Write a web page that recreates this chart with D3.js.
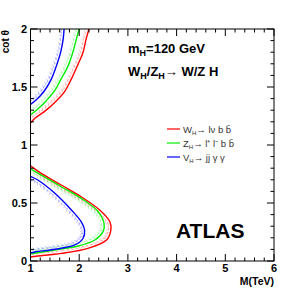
<!DOCTYPE html>
<html>
<head>
<meta charset="utf-8">
<script src="https://cdn.jsdelivr.net/npm/d3@7"></script>
<style>
  body { margin: 0; background: #fff; }
  text { font-family: "Liberation Sans", Arial, sans-serif; }
</style>
</head>
<body>
<div id="chart"></div>
<script>
// exclusion contours, [M (TeV), cot theta]
let redUpper = [[1.0,1.19],[1.09,1.23],[1.29,1.29],[1.53,1.38],[1.70,1.46],[1.84,1.57],[1.97,1.69],[2.08,1.80],[2.14,1.91],[2.20,2.0]];
let greenUpper = [[1.0,1.26],[1.15,1.31],[1.32,1.38],[1.50,1.47],[1.63,1.57],[1.77,1.68],[1.87,1.80],[1.94,1.91],[2.00,2.0]];
let blueUpper = [[1.0,1.35],[1.12,1.39],[1.29,1.47],[1.43,1.57],[1.53,1.68],[1.62,1.80],[1.67,1.91],[1.69,2.0]];

let redLower = [[1.0,0.82],[1.22,0.756],[1.63,0.655],[2.04,0.554],[2.42,0.44],[2.63,0.339],[2.65,0.267],[2.56,0.181],[2.18,0.109],[1.63,0.066],[1.15,0.043],[1.0,0.035]];
let greenLower = [[1.0,0.795],[1.22,0.741],[1.63,0.64],[2.04,0.54],[2.39,0.425],[2.51,0.325],[2.49,0.253],[2.32,0.181],[1.98,0.129],[1.50,0.095],[1.09,0.067],[1.0,0.062]];
let blueLower = [[1.0,0.73],[1.15,0.698],[1.50,0.584],[1.84,0.44],[2.04,0.339],[2.11,0.267],[2.08,0.196],[1.91,0.138],[1.50,0.101],[1.09,0.078],[1.0,0.07]];

let xTicks = [1, 2, 3, 4, 5, 6];
let yTicks = [0, 0.5, 1, 1.5, 2];
let yTickLabels = ["0", "0.5", "1", "1.5", "2"];
let legendColors = ["#ff0000", "#00ee00", "#0000ff"];

let width = 305, height = 291;
let mLeft = 30.5, mRight = 274, mTop = 29, mBottom = 261;

let svg = d3.select("#chart").append("svg")
  .attr("width", width)
  .attr("height", height);

let x = d3.scaleLinear().domain([1, 6]).range([mLeft, mRight]);
let y = d3.scaleLinear().domain([0, 2]).range([mBottom, mTop]);

svg.append("clipPath").attr("id", "clip")
  .append("rect").attr("x", mLeft).attr("y", mTop)
  .attr("width", mRight - mLeft).attr("height", mBottom - mTop);

let line = d3.line()
  .x(d => x(d[0]))
  .y(d => y(d[1]))
  .curve(d3.curveCatmullRom);

let plot = svg.append("g").attr("clip-path", "url(#clip)");

// draw curve with light hatching toward excluded side
function contour(data, color, ref) {
  let p = plot.append("path")
    .datum(data)
    .attr("d", line)
    .attr("fill", "none")
    .attr("stroke", color)
    .attr("stroke-width", 1.4);
  let node = p.node();
  let L = node.getTotalLength();
  let rx = x(ref[0]), ry = y(ref[1]);
  let hatch = plot.append("g").attr("stroke", color).attr("stroke-opacity", 0.3).attr("stroke-width", 0.8);
  let pts = [];
  for (let s = 1; s < L; s += 4) {
    let a = node.getPointAtLength(s);
    let b = node.getPointAtLength(Math.min(L, s + 0.8));
    let tx = b.x - a.x, ty = b.y - a.y;
    let len = Math.hypot(tx, ty) || 1;
    tx /= len; ty /= len;
    let nx = -ty, ny = tx;
    if (nx * (rx - a.x) + ny * (ry - a.y) < 0) { nx = -nx; ny = -ny; }
    pts.push([a.x + nx * 2.5, a.y + ny * 2.5]);
    hatch.append("line")
      .attr("x1", a.x + nx * 1.5).attr("y1", a.y + ny * 1.5)
      .attr("x2", a.x + nx * 4.5 + tx * 2).attr("y2", a.y + ny * 4.5 + ty * 2);
  }
  plot.append("path")
    .attr("d", d3.line()(pts))
    .attr("fill", "none")
    .attr("stroke", color)
    .attr("stroke-opacity", 0.3)
    .attr("stroke-width", 0.8)
    .attr("stroke-dasharray", "3,2");
}

contour(redUpper, legendColors[0], [1, 2]);
contour(greenUpper, legendColors[1], [1, 2]);
contour(blueUpper, legendColors[2], [1, 2]);
contour(redLower, legendColors[0], [1, 0.4]);
contour(greenLower, legendColors[1], [1, 0.4]);
contour(blueLower, legendColors[2], [1, 0.4]);

// frame and ticks
let axes = svg.append("g").attr("stroke", "#000").attr("stroke-width", 1);
axes.append("rect")
  .attr("x", mLeft).attr("y", mTop)
  .attr("width", mRight - mLeft).attr("height", mBottom - mTop)
  .attr("fill", "none");

d3.range(1, 6.001, 0.2).forEach(function(v) {
  let major = Math.abs(v - Math.round(v)) < 1e-6;
  let len = major ? 7 : 3.5;
  axes.append("line").attr("x1", x(v)).attr("x2", x(v)).attr("y1", mBottom).attr("y2", mBottom - len);
  axes.append("line").attr("x1", x(v)).attr("x2", x(v)).attr("y1", mTop).attr("y2", mTop + len);
});
d3.range(0, 2.001, 0.1).forEach(function(v) {
  let major = Math.abs(v * 2 - Math.round(v * 2)) < 1e-6;
  let len = major ? 7 : 3.5;
  axes.append("line").attr("x1", mLeft).attr("x2", mLeft + len).attr("y1", y(v)).attr("y2", y(v));
  axes.append("line").attr("x1", mRight).attr("x2", mRight - len).attr("y1", y(v)).attr("y2", y(v));
});

svg.append("g").selectAll("text")
  .data(xTicks).enter().append("text")
  .attr("x", d => x(d))
  .attr("y", 272)
  .attr("text-anchor", "middle")
  .attr("font-size", 11)
  .attr("font-weight", "bold")
  .text(d => d);

svg.append("g").selectAll("text")
  .data(yTicks).enter().append("text")
  .attr("x", 27)
  .attr("y", d => y(d) + 4)
  .attr("text-anchor", "end")
  .attr("font-size", 11)
  .attr("font-weight", "bold")
  .text((d, i) => yTickLabels[i]);

svg.append("text")
  .attr("transform", "translate(9,30) rotate(-90)")
  .attr("text-anchor", "end")
  .attr("font-size", 10)
  .attr("font-weight", "bold")
  .text("cot θ");

svg.append("text")
  .attr("x", 274).attr("y", 285)
  .attr("text-anchor", "end")
  .attr("font-size", 10.5)
  .attr("font-weight", "bold")
  .text("M(TeV)");

// annotations
let t1 = svg.append("text").attr("x", 128).attr("y", 53)
  .attr("font-size", 13).attr("font-weight", "bold");
t1.append("tspan").text("m");
t1.append("tspan").attr("dy", 3).attr("font-size", 9).text("H");
t1.append("tspan").attr("dy", -3).text("=120 GeV");

let t2 = svg.append("text").attr("x", 128).attr("y", 76)
  .attr("font-size", 13).attr("font-weight", "bold");
t2.append("tspan").text("W");
t2.append("tspan").attr("dy", 3).attr("font-size", 9).text("H");
t2.append("tspan").attr("dy", -3).text("/Z");
t2.append("tspan").attr("dy", 3).attr("font-size", 9).text("H");
t2.append("tspan").attr("dy", -3).text("→ W/Z H");

svg.append("text")
  .attr("x", 176).attr("y", 238)
  .attr("font-size", 21)
  .attr("font-weight", "bold")
  .text("ATLAS");

// legend
let legendLabels = [["W", "→ lν b b\u0304"], ["Z", "→ l\u207A l\u207B b b\u0304"], ["V", "→ jj γ γ"]];
let legendY = [129, 143, 157];
legendLabels.forEach(function(lab, i) {
  svg.append("line")
    .attr("x1", 167).attr("x2", 180)
    .attr("y1", legendY[i]).attr("y2", legendY[i])
    .attr("stroke", legendColors[i]).attr("stroke-width", 1.2);
  let t = svg.append("text").attr("x", 183).attr("y", legendY[i] + 3.5)
    .attr("font-size", 9.5).attr("fill", "#333");
  t.append("tspan").text(lab[0]);
  t.append("tspan").attr("dy", 2).attr("font-size", 6).text("H");
  t.append("tspan").attr("dy", -2).text(lab[1]);
});
</script>
</body>
</html>
